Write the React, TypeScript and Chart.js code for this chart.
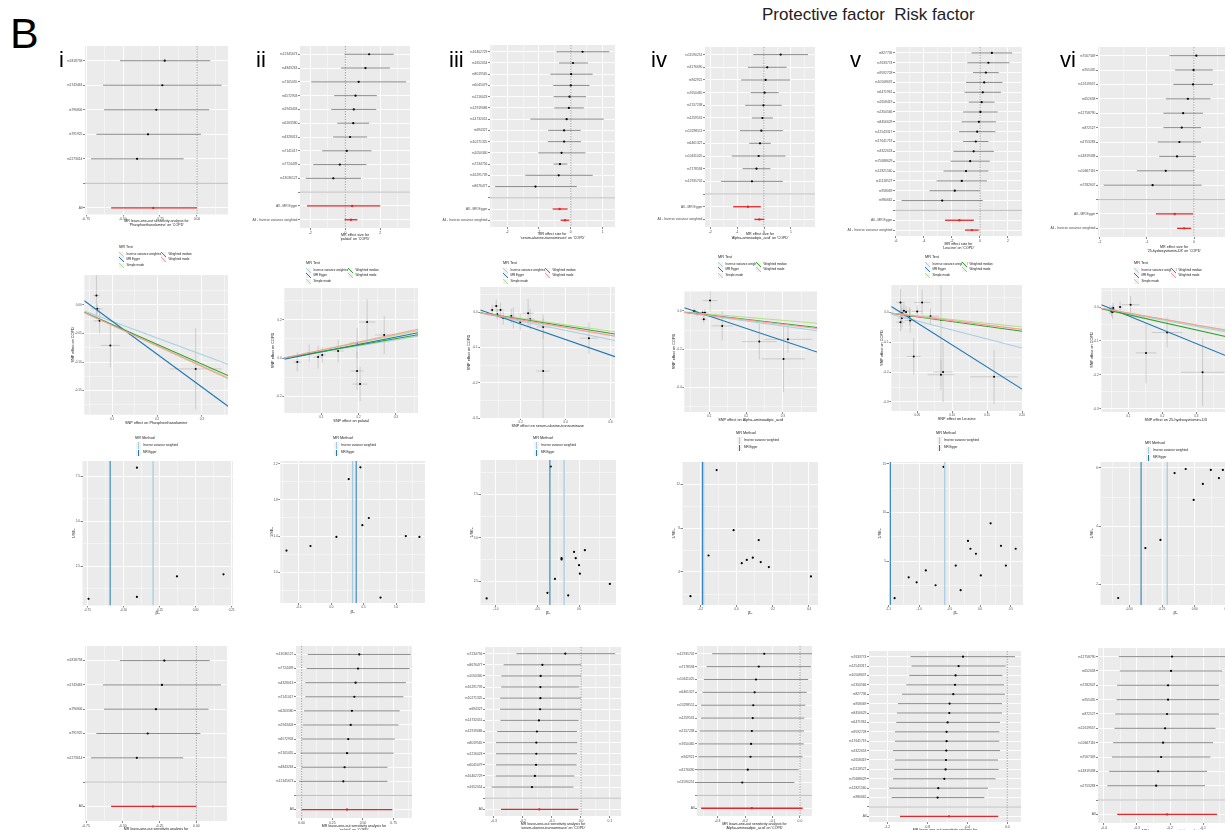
import React, { useEffect, useRef } from 'react';
import { Chart, registerables } from 'chart.js';

Chart.register(...registerables);

const FONT = "'Liberation Sans', Arial, 'DejaVu Sans', sans-serif";
const C = { ivw: '#A6CEE3', egger: '#1F78B4', smode: '#B2DF8A', wmed: '#33A02C', wmode: '#FB9A99' };
const SUM_LABELS = ['All - MR Egger', 'All - Inverse variance weighted'];

// ================= Column i : Phosphoethanolamine =================
const snpsI = ['rs1818758', 'rs1743463', 'rs796806', 'rs791925', 'rs2273614'];
const looI_b = [-0.218, -0.234, -0.275, -0.331, -0.405];
const looI_lo = [-0.52, -0.635, -0.628, -0.68, -0.716];
const looI_hi = [0.09, 0.167, 0.083, 0.027, -0.09];
const sumI_b = [-0.295];
const sumI_lo = [-0.58];
const sumI_hi = [0.0];
const scI_x = [0.065, 0.067, 0.072, 0.096, 0.286];
const scI_y = [0.016, -0.007, -0.028, -0.071, -0.112];
const scI_xse = [0.0075, 0.0125, 0.0125, 0.021, 0.058];
const scI_yse = [0.041, 0.009, 0.022, 0.038, 0.071];
const mrI_slope = [-0.29, -0.576, -0.355, -0.345, -0.36]; // IVW, Egger, Simple mode, W median, W mode
const mrI_icpt = [0, 0.029, 0, 0, 0];
const fnI_b = [-0.743, -0.407, -0.407, -0.129, 0.194];
const fnI_prec = [0.67, 7.99, 0.78, 1.93, 2.04];
const fnI_line = [-0.295, -0.593]; // IVW, Egger

// ================= Column ii : palatal =================
const snpsII = ['rs12345673', 'rs4843263', 'rs7165055', 'rs6572903', 'rs2943403', 'rs6263580', 'rs4328013', 'rs7141017', 'rs7724439', 'rs13036127'];
const fII_b = [1.36, 1.15, 0.76, 0.58, 0.48, 0.45, 0.27, 0.08, -0.32, -0.69];
const fII_lo = [-0.05, -0.25, -1.96, -0.64, -0.81, -0.46, -0.7, -1.33, -1.84, -2.27];
const fII_hi = [2.77, 2.55, 3.48, 1.8, 1.77, 1.36, 1.24, 1.49, 1.2, 0.89];
const sumII_b = [0.385, 0.32];
const sumII_lo = [-2.2, -0.05];
const sumII_hi = [2.0, 0.69];
const scII_x = [0.035, 0.067, 0.091, 0.102, 0.145, 0.196, 0.196, 0.204, 0.223, 0.269];
const scII_y = [-0.021, 0.026, 0.005, 0.016, 0.037, 0.079, -0.068, -0.137, 0.189, 0.121];
const scII_xse = [0.01, 0.012, 0.012, 0.01, 0.015, 0.02, 0.018, 0.02, 0.022, 0.025];
const scII_yse = [0.05, 0.045, 0.06, 0.04, 0.06, 0.08, 0.1, 0.09, 0.12, 0.1];
const mrII_slope = [0.32, 0.385, 0.4, 0.34, 0.42];
const mrII_icpt = [0, -0.006, 0, 0, 0];
const fnII_b = [-0.69, -0.32, 0.08, 0.27, 0.45, 0.48, 0.58, 0.76, 1.15, 1.36];
const fnII_prec = [1.24, 1.29, 1.39, 2.03, 2.16, 1.52, 1.6, 0.72, 1.4, 1.39];
const fnII_line = [0.33, 0.385];
const looSnpsII = ['rs13036127', 'rs7724439', 'rs4328013', 'rs7141017', 'rs6263580', 'rs2943403', 'rs6572903', 'rs7165055', 'rs4843263', 'rs12345673'];
const looII_b = [0.47, 0.46, 0.44, 0.43, 0.41, 0.4, 0.38, 0.37, 0.35, 0.34];
const looII_lo = [0.05, 0.04, 0.03, 0.03, 0.02, 0.01, 0.0, -0.01, 0.0, -0.02];
const looII_hi = [0.89, 0.88, 0.85, 0.83, 0.8, 0.79, 0.76, 0.75, 0.7, 0.7];
const looSumII = [0.37, 0.0, 0.74]; // b, lo, hi

// ================= Column iii : serum-alanine-transaminase =================
const snpsIII = ['rs16402729', 'rs1652054', 'rs8019565', 'rs6045079', 'rs1216023', 'rs12919086', 'rs14732051', 'rs694327', 'rs10271325', 'rs1050340', 'rs7234756', 'rs16291739', 'rs8676477'];
const fIII_b = [0.37, 0.07, 0.01, 0.0, -0.04, -0.06, -0.13, -0.21, -0.21, -0.29, -0.34, -0.38, -1.11];
const fIII_lo = [-0.45, -0.37, -0.64, -0.55, -0.54, -0.52, -1.27, -0.71, -0.72, -1.02, -0.54, -1.43, -2.38];
const fIII_hi = [1.21, 0.54, 0.69, 0.59, 0.48, 0.41, 1.04, 0.31, 0.32, 0.46, -0.11, 0.69, 0.19];
const sumIII_b = [-0.35, -0.18];
const sumIII_lo = [-0.57, -0.32];
const sumIII_hi = [-0.1, -0.05];
const scIII_x = [0.073, 0.091, 0.096, 0.11, 0.122, 0.158, 0.167, 0.198, 0.233, 0.242, 0.3, 0.3, 0.504];
const scIII_y = [0.006, 0.017, -0.006, 0.006, -0.017, -0.011, -0.017, -0.028, -0.003, -0.02, -0.042, -0.167, -0.074];
const scIII_xse = [0.01, 0.012, 0.012, 0.015, 0.012, 0.015, 0.02, 0.02, 0.025, 0.02, 0.03, 0.03, 0.04];
const scIII_yse = [0.015, 0.018, 0.015, 0.02, 0.018, 0.02, 0.03, 0.025, 0.04, 0.03, 0.035, 0.15, 0.045];
const mrIII_slope = [-0.13, -0.22, -0.09, -0.1, -0.11];
const mrIII_icpt = [0, 0.01, 0, 0, 0];
const fnIII_b = [0.37, 0.07, 0.01, 0.0, -0.04, -0.06, -0.13, -0.21, -0.21, -0.29, -0.34, -0.38, -1.11];
const fnIII_prec = [2.36, 4.3, 2.95, 3.44, 3.84, 4.2, 1.7, 3.84, 3.77, 2.65, 9.1, 1.85, 1.53];
const fnIII_line = [-0.18, -0.35];
const looSnpsIII = ['rs7234756', 'rs8676477', 'rs1050340', 'rs16291739', 'rs10271325', 'rs694327', 'rs14732051', 'rs12919086', 'rs8019565', 'rs1216023', 'rs6045079', 'rs16402729', 'rs1652054'];
const looIII_b = [-0.054, -0.133, -0.139, -0.14, -0.14, -0.141, -0.145, -0.152, -0.154, -0.154, -0.155, -0.159, -0.169];
const looIII_lo = [-0.223, -0.267, -0.275, -0.275, -0.279, -0.279, -0.278, -0.289, -0.293, -0.293, -0.293, -0.294, -0.308];
const looIII_hi = [0.118, 0.001, 0.0, -0.006, 0.0, 0.0, -0.008, -0.014, -0.013, -0.014, -0.015, -0.023, -0.026];
const looSumIII = [-0.144, -0.276, -0.009];

// ================= Column iv : Alpha-aminoadipic_acid =================
const snpsIV = ['rs11590251', 'rs3176690', 'rs942921', 'rs7650465', 'rs2157238', 'rs1259531', 'rs13298511', 'rs6461327', 'rs10611025', 'rs7178594', 'rs12935702'];
const fIV_b = [0.62, 0.12, 0.06, 0.02, -0.02, -0.06, -0.1, -0.15, -0.2, -0.28, -0.45];
const fIV_lo = [-0.4, -0.6, -0.85, -0.5, -0.7, -0.45, -0.9, -0.55, -1.2, -0.8, -1.6];
const fIV_hi = [1.64, 0.84, 0.97, 0.54, 0.66, 0.33, 0.7, 0.25, 0.8, 0.24, 0.7];
const sumIV_b = [-0.6, -0.175];
const sumIV_lo = [-1.15, -0.36];
const sumIV_hi = [-0.12, 0.01];
const scIV_x = [0.058, 0.061, 0.067, 0.082, 0.085, 0.088, 0.102, 0.135, 0.236, 0.302, 0.314];
const scIV_y = [0.0, -0.003, -0.012, -0.009, -0.043, -0.009, 0.054, -0.078, -0.16, -0.25, -0.148];
const scIV_xse = [0.006, 0.005, 0.006, 0.007, 0.008, 0.007, 0.02, 0.029, 0.047, 0.059, 0.066];
const scIV_yse = [0.012, 0.01, 0.015, 0.014, 0.02, 0.018, 0.058, 0.076, 0.094, 0.174, 0.07];
const mrIV_slope = [-0.263, -0.64, -0.163, -0.22, -0.233];
const mrIV_icpt = [0, 0.037, 0, 0, 0];
const fnIV_b = [-0.111, -0.017, 0.028, 0.056, 0.089, 0.133, 0.122, 0.178, -0.156, -0.256, 0.411];
const fnIV_prec = [13.27, 7.8, 4.8, 5.1, 5.3, 4.9, 6.9, 4.45, 5.5, 1.8, 3.6];
const fnIV_line = [-0.183, -0.19];
const looSnpsIV = ['rs12935702', 'rs7178594', 'rs10611025', 'rs6461327', 'rs13298511', 'rs1259531', 'rs2157238', 'rs7650465', 'rs942921', 'rs3176690', 'rs11590251'];
const looIV_b = [-0.13, -0.15, -0.16, -0.165, -0.17, -0.172, -0.175, -0.178, -0.18, -0.19, -0.21];
const looIV_lo = [-0.32, -0.34, -0.35, -0.355, -0.36, -0.36, -0.365, -0.37, -0.37, -0.375, -0.4];
const looIV_hi = [0.06, 0.04, 0.03, 0.025, 0.02, 0.016, 0.015, 0.014, 0.01, -0.005, -0.02];
const looSumIV = [-0.175, -0.36, 0.01];

// ================= Column v : Leucine =================
const snpsV = ['rs827736', 'rs7633774', 'rs9592728', 'rs10508637', 'rs6471961', 'rs2658419', 'rs2350566', 'rs8456629', 'rs12543317', 'rs17641719', 'rs3322653', 'rs75688629', 'rs12821560', 'rs11118527', 'rs958069', 'rs980662'];
const fV_b = [0.85, 0.6, 0.42, 0.3, 0.2, 0.12, 0.03, -0.08, -0.2, -0.3, -0.45, -0.7, -1.0, -1.3, -1.8, -2.7];
const fV_lo = [-0.6, -0.9, -0.5, -1.0, -1.1, -0.8, -1.2, -1.3, -1.5, -1.2, -1.9, -2.1, -2.6, -3.1, -3.6, -5.6];
const fV_hi = [2.3, 2.1, 1.34, 1.6, 1.5, 1.04, 1.26, 1.14, 1.1, 0.6, 1.0, 0.7, 0.6, 0.5, 0.0, 0.2];
const sumV_b = [-1.47, -0.58];
const sumV_lo = [-2.5, -1.07];
const sumV_hi = [-0.44, -0.09];
const scV_x = [0.026, 0.028, 0.026, 0.028, 0.031, 0.039, 0.04, 0.05, 0.057, 0.069, 0.084, 0.045, 0.084, 0.087, 0.16, 0.034];
const scV_y = [0.032, -0.003, -0.034, -0.02, 0.004, -0.014, -0.028, 0.002, 0.032, -0.014, -0.026, -0.148, -0.209, -0.2, -0.216, 0.0];
const scV_xse = [0.006, 0.006, 0.006, 0.006, 0.007, 0.008, 0.008, 0.008, 0.012, 0.012, 0.01, 0.01, 0.019, 0.014, 0.034, 0.006];
const scV_yse = [0.045, 0.03, 0.03, 0.035, 0.025, 0.03, 0.04, 0.02, 0.043, 0.025, 0.18, 0.06, 0.05, 0.1, 0.09, 0.02];
const mrV_slope = [-0.6, -1.47, -0.25, -0.32, -0.29];
const mrV_icpt = [0, 0.037, 0, 0, 0];
const fnV_b = [-0.6, -0.89, -0.2, -0.16, -0.07, 0.17, 0.34, 0.58, -1.17, -1.04, -0.4, -0.73, 0.01, -0.32, -1.4, 0.42];
const fnV_prec = [14.7, 4.05, 7.09, 6.28, 5.77, 8.9, 6.58, 6.28, 3.34, 2.83, 4.55, 2.53, 3.54, 2.02, 1.2, 4.55];
const fnV_line = [-0.58, -1.47];
const looSnpsV = ['rs7633774', 'rs12543317', 'rs10508637', 'rs2350566', 'rs827736', 'rs958069', 'rs8456629', 'rs6471961', 'rs9592728', 'rs17641719', 'rs3322653', 'rs2658419', 'rs11118527', 'rs75688629', 'rs12821560', 'rs980662'];
const looV_b = [-0.443, -0.487, -0.517, -0.523, -0.54, -0.577, -0.58, -0.597, -0.607, -0.607, -0.61, -0.613, -0.617, -0.63, -0.69, -0.697];
const looV_lo = [-0.967, -0.957, -0.98, -1.01, -1.053, -1.093, -1.103, -1.11, -1.123, -1.123, -1.143, -1.123, -1.133, -1.143, -1.183, -1.157];
const looV_hi = [0.077, -0.017, -0.05, -0.033, -0.023, -0.053, -0.053, -0.073, -0.08, -0.08, -0.073, -0.093, -0.087, -0.117, -0.193, -0.23];
const looSumV = [-0.583, -1.073, -0.09];

// ================= Column vi : 25-hydroxyvitamin-D3 =================
const snpsVI = ['rs7567349', 'rs955435', 'rs12619657', 'rs652658', 'rs12758790', 'rs872527', 'rs2753283', 'rs14819438', 'rs10667116', 'rs7282607'];
const fVI_b = [0.05, -0.01, -0.02, -0.13, -0.23, -0.26, -0.31, -0.36, -0.6, -0.88];
const fVI_lo = [-0.52, -0.4, -0.44, -0.6, -0.65, -0.65, -0.77, -0.74, -1.21, -1.92];
const fVI_hi = [0.75, 0.4, 0.4, 0.35, 0.19, 0.15, 0.15, 0.04, 0.01, 0.16];
const sumVI_b = [-0.41, -0.21];
const sumVI_lo = [-0.81, -0.36];
const sumVI_hi = [-0.02, -0.06];
const scVI_x = [0.046, 0.051, 0.054, 0.056, 0.076, 0.107, 0.152, 0.214, 0.318, 0.05];
const scVI_y = [-0.008, -0.013, -0.015, -0.003, 0.0, 0.007, -0.135, -0.075, -0.192, -0.01];
const scVI_xse = [0.006, 0.005, 0.006, 0.006, 0.008, 0.026, 0.03, 0.045, 0.064, 0.005];
const scVI_yse = [0.012, 0.015, 0.02, 0.015, 0.017, 0.025, 0.09, 0.044, 0.1, 0.01];
const mrVI_slope = [-0.19, -0.41, -0.18, -0.225, -0.175];
const mrVI_icpt = [0, 0.015, 0, 0, 0];
const fnVI_b = [-0.585, -0.377, -0.154, -0.069, -0.008, 0.062, 0.123, 0.185, 0.215, -0.262];
const fnVI_prec = [1.54, 3.25, 5.82, 5.96, 4.9, 5.45, 5.93, 5.65, 5.93, 3.53];
const fnVI_line = [-0.21, -0.41];
const looSnpsVI = ['rs12758790', 'rs652658', 'rs7282607', 'rs955435', 'rs872527', 'rs12619657', 'rs10667116', 'rs7567349', 'rs14819438', 'rs2753283'];
const looVI_b = [-0.194, -0.197, -0.206, -0.206, -0.209, -0.215, -0.221, -0.227, -0.236, -0.242];
const looVI_lo = [-0.355, -0.352, -0.36, -0.362, -0.366, -0.368, -0.372, -0.376, -0.384, -0.39];
const looVI_hi = [-0.033, -0.042, -0.052, -0.05, -0.052, -0.062, -0.07, -0.078, -0.088, -0.094];
const looSumVI = [-0.209, -0.36, -0.058];

// ================= helpers =================
type Box = [number, number, number, number];
type Seg = { x0: number; x1: number; y0: number; y1: number; c: string; w: number; dash?: number[] };
type Spec = { left: number; top: number; w: number; h: number; make: () => any };

function fmt(v: number, dec: number) {
  const s = v.toFixed(dec);
  return /^-0(\.0+)?$/.test(s) ? s.slice(1) : s;
}

function minorTicks(majors: number[], min: number, max: number) {
  const step = majors[1] - majors[0];
  const out = majors.map((m) => m - step / 2);
  out.push(majors[majors.length - 1] + step / 2);
  return out.filter((v) => v > min && v < max);
}

function makeAxis(o: {
  horiz: boolean; min: number; max: number; majors: number[]; dec?: number; labels?: (v: number) => string;
  minor: boolean; size: number; fs: number; title?: string | string[]; tfs?: number; reverse?: boolean;
}) {
  const ticks = o.majors.map((v) => ({ value: v, minor: false }));
  if (o.minor) minorTicks(o.majors, o.min, o.max).forEach((v) => ticks.push({ value: v, minor: true }));
  ticks.sort((a, b) => a.value - b.value);
  return {
    type: 'linear',
    min: o.min,
    max: o.max,
    reverse: !!o.reverse,
    afterBuildTicks: (s: any) => { s.ticks = ticks.map((t) => ({ ...t })); },
    afterFit: (s: any) => { if (o.horiz) s.height = o.size; else s.width = o.size; },
    ticks: {
      autoSkip: false, maxRotation: 0, minRotation: 0, padding: 0.6, color: '#4D4D4D',
      font: { size: o.fs, family: FONT },
      callback: (v: number, i: number, arr: any[]) =>
        arr[i] && arr[i].minor ? '' : (o.labels ? o.labels(v) : fmt(v, o.dec ?? 1)),
    },
    grid: {
      color: '#FFFFFF',
      lineWidth: (c: any) => (c.tick && c.tick.minor ? 0.45 : 0.9),
      drawTicks: true, tickLength: 2,
      tickColor: (c: any) => (c.tick && c.tick.minor ? 'rgba(0,0,0,0)' : '#333333'),
      tickWidth: 0.6,
    },
    border: { display: false },
    title: o.title
      ? { display: true, text: o.title, color: '#1A1A1A', font: { size: o.tfs ?? 3.8, family: FONT, lineHeight: 1.2 }, padding: { top: 0, bottom: 0 } }
      : { display: false },
  };
}

const bgPlugin = {
  id: 'panelBg',
  beforeDraw(chart: any) {
    const { ctx, chartArea: a } = chart;
    ctx.save();
    ctx.fillStyle = '#EBEBEB';
    ctx.fillRect(a.left, a.top, a.right - a.left, a.bottom - a.top);
    ctx.restore();
  },
};

function extrasPlugin(under: Seg[], over: Seg[]) {
  const draw = (chart: any, segs: Seg[]) => {
    const { ctx, chartArea: a, scales } = chart;
    const x = scales.x, y = scales.y;
    ctx.save();
    ctx.beginPath();
    ctx.rect(a.left, a.top, a.right - a.left, a.bottom - a.top);
    ctx.clip();
    for (const s of segs) {
      const px0 = isNaN(s.x0) ? a.left : x.getPixelForValue(s.x0);
      const px1 = isNaN(s.x1) ? a.right : x.getPixelForValue(s.x1);
      const py0 = isNaN(s.y0) ? a.top : y.getPixelForValue(s.y0);
      const py1 = isNaN(s.y1) ? a.bottom : y.getPixelForValue(s.y1);
      ctx.beginPath();
      ctx.strokeStyle = s.c;
      ctx.lineWidth = s.w;
      ctx.setLineDash(s.dash || []);
      ctx.moveTo(px0, py0);
      ctx.lineTo(px1, py1);
      ctx.stroke();
    }
    ctx.restore();
  };
  return {
    id: 'extras',
    beforeDatasetsDraw(chart: any) { draw(chart, under); },
    afterDatasetsDraw(chart: any) { draw(chart, over); },
  };
}

function frame(box: Box, L: number, B: number, T = 4, R = 8) {
  return { left: box[0] - L, top: box[1] - T, w: box[2] - box[0] + L + R, h: box[3] - box[1] + T + B, T, R };
}

function baseOptions(T: number, R: number, x: any, y: any) {
  return {
    animation: false, responsive: false, maintainAspectRatio: false, devicePixelRatio: 1, events: [],
    layout: { padding: { left: 0, top: T, right: R, bottom: 0 } },
    plugins: { legend: { display: false }, tooltip: { enabled: false }, title: { display: false } },
    scales: { x, y },
  };
}

function pointsDs(pts: { x: number; y: number }[], color: string, r = 1.1) {
  return { type: 'scatter', data: pts, backgroundColor: color, borderColor: color, borderWidth: 0, pointRadius: r };
}

// ---------- forest / leave-one-out ----------
function forest(o: {
  box: Box; L: number; B: number; snps: string[]; b: number[]; lo: number[]; hi: number[];
  sLab: string[]; sB: number[]; sLo: number[]; sHi: number[];
  xmin: number; xmax: number; xt: number[]; dec: number; title: string[]; yPad?: number;
}): Spec {
  const f = frame(o.box, o.L, o.B);
  return {
    left: f.left, top: f.top, w: f.w, h: f.h,
    make: () => {
      const n1 = o.snps.length;
      const labels = [...o.snps, '', ...o.sLab];
      const N = labels.length;
      const rows = labels.map((_, i) => i + 1);
      const under: Seg[] = [];
      under.push({ x0: 0, x1: 0, y0: NaN, y1: NaN, c: '#7A7A7A', w: 0.7, dash: [1.4, 1.2] });
      o.b.forEach((_, i) => under.push({ x0: o.lo[i], x1: o.hi[i], y0: i + 1, y1: i + 1, c: '#707070', w: 0.8 }));
      o.sB.forEach((_, j) => under.push({ x0: o.sLo[j], x1: o.sHi[j], y0: n1 + 2 + j, y1: n1 + 2 + j, c: '#E8262A', w: 1.3 }));
      under.push({ x0: NaN, x1: NaN, y0: n1 + 1, y1: n1 + 1, c: '#BEBEBE', w: 1 });
      const x = makeAxis({ horiz: true, min: o.xmin, max: o.xmax, majors: o.xt, dec: o.dec, minor: true, size: o.B, fs: 3.4, title: o.title, tfs: 3.6 });
      const y = makeAxis({
        horiz: false, min: 0.4, max: N + (o.yPad ?? 0.6), majors: rows, minor: false, size: o.L, fs: 3.3, reverse: true,
        labels: (v: number) => labels[Math.round(v) - 1] ?? '',
      });
      return {
        type: 'scatter',
        data: {
          datasets: [
            pointsDs(o.sB.map((v, j) => ({ x: v, y: n1 + 2 + j })), '#E8262A', 1.2),
            pointsDs(o.b.map((v, i) => ({ x: v, y: i + 1 })), '#000000', 1.1),
          ],
        },
        options: baseOptions(f.T, f.R, x, y),
        plugins: [bgPlugin, extrasPlugin(under, [])],
      };
    },
  };
}

// ---------- scatter ----------
function scatter(o: {
  box: Box; L: number; B: number; x: number[]; y: number[]; xse: number[]; yse: number[];
  slope: number[]; icpt: number[]; xmin: number; xmax: number; ymin: number; ymax: number;
  xt: number[]; yt: number[]; xdec: number; ydec: number; xtitle: string;
}): Spec {
  const f = frame(o.box, o.L, o.B);
  return {
    left: f.left, top: f.top, w: f.w, h: f.h,
    make: () => {
      const under: Seg[] = [];
      o.x.forEach((xv, i) => {
        under.push({ x0: xv, x1: xv, y0: o.y[i] - o.yse[i], y1: o.y[i] + o.yse[i], c: '#B5B5B5', w: 0.6 });
        under.push({ x0: xv - o.xse[i], x1: xv + o.xse[i], y0: o.y[i], y1: o.y[i], c: '#B5B5B5', w: 0.6 });
      });
      const cols = [C.ivw, C.egger, C.smode, C.wmed, C.wmode];
      const lines = cols.map((c, k) => ({
        type: 'line',
        data: [
          { x: o.xmin, y: o.icpt[k] + o.slope[k] * o.xmin },
          { x: o.xmax, y: o.icpt[k] + o.slope[k] * o.xmax },
        ],
        borderColor: c, borderWidth: 1.1, pointRadius: 0, fill: false, tension: 0,
      })).reverse();
      const x = makeAxis({ horiz: true, min: o.xmin, max: o.xmax, majors: o.xt, dec: o.xdec, minor: true, size: o.B, fs: 3, title: o.xtitle, tfs: 3.8 });
      const y = makeAxis({ horiz: false, min: o.ymin, max: o.ymax, majors: o.yt, dec: o.ydec, minor: true, size: o.L, fs: 3, title: 'SNP effect on COPD', tfs: 3.8 });
      return {
        type: 'scatter',
        data: { datasets: [...lines, pointsDs(o.x.map((v, i) => ({ x: v, y: o.y[i] })), '#000000', 1.0)] },
        options: baseOptions(f.T, f.R, x, y),
        plugins: [bgPlugin, extrasPlugin(under, [])],
      };
    },
  };
}

// ---------- funnel ----------
function funnel(o: {
  box: Box; L: number; B: number; b: number[]; prec: number[]; lines: number[];
  xmin: number; xmax: number; ymin: number; ymax: number; xt: number[]; yt: number[]; xdec: number; ydec: number;
}): Spec {
  const f = frame(o.box, o.L, o.B);
  return {
    left: f.left, top: f.top, w: f.w, h: f.h,
    make: () => {
      const over: Seg[] = [
        { x0: o.lines[0], x1: o.lines[0], y0: NaN, y1: NaN, c: C.ivw, w: 1.3 },
        { x0: o.lines[1], x1: o.lines[1], y0: NaN, y1: NaN, c: C.egger, w: 1.0 },
      ];
      const x = makeAxis({ horiz: true, min: o.xmin, max: o.xmax, majors: o.xt, dec: o.xdec, minor: true, size: o.B, fs: 3, title: '\u03B2\u0302\u1D62\u1D65', tfs: 4.2 });
      const y = makeAxis({ horiz: false, min: o.ymin, max: o.ymax, majors: o.yt, dec: o.ydec, minor: true, size: o.L, fs: 3, title: '1/SE\u1D62\u1D65', tfs: 3.8 });
      return {
        type: 'scatter',
        data: { datasets: [pointsDs(o.b.map((v, i) => ({ x: v, y: o.prec[i] })), '#000000', 1.1)] },
        options: baseOptions(f.T, f.R, x, y),
        plugins: [bgPlugin, extrasPlugin([], over)],
      };
    },
  };
}

const looTitle = (e: string) => ['MR leave-one-out sensitivity analysis for', `'${e}' on 'COPD'`];
const mrTitle = (e: string) => ['MR effect size for', `'${e}' on 'COPD'`];

const SPECS: Spec[] = [
  // ---------- Row 1 : single SNP / forest ----------
  forest({ box: [85, 46, 228, 214], L: 40, B: 12.5, snps: snpsI, b: looI_b, lo: looI_lo, hi: looI_hi, sLab: ['All'], sB: sumI_b, sLo: sumI_lo, sHi: sumI_hi, xmin: -0.757, xmax: 0.21, xt: [-0.75, -0.5, -0.25, 0], dec: 2, title: looTitle('Phosphoethanolamine'), yPad: 0.27 }),
  forest({ box: [300, 46, 410, 228], L: 50, B: 13, snps: snpsII, b: fII_b, lo: fII_lo, hi: fII_hi, sLab: SUM_LABELS, sB: sumII_b, sLo: sumII_lo, sHi: sumII_hi, xmin: -2.6, xmax: 3.7, xt: [-2, 0, 2], dec: 0, title: mrTitle('palatal') }),
  forest({ box: [490, 45, 615, 227], L: 50, B: 13, snps: snpsIII, b: fIII_b, lo: fIII_lo, hi: fIII_hi, sLab: SUM_LABELS, sB: sumIII_b, sLo: sumIII_lo, sHi: sumIII_hi, xmin: -2.54, xmax: 1.39, xt: [-2, -1, 0, 1], dec: 0, title: mrTitle('serum-alanine-transaminase') }),
  forest({ box: [705, 47, 815, 227], L: 50, B: 13, snps: snpsIV, b: fIV_b, lo: fIV_lo, hi: fIV_hi, sLab: SUM_LABELS, sB: sumIV_b, sLo: sumIV_lo, sHi: sumIV_hi, xmin: -2.2, xmax: 1.9, xt: [-2, -1, 0, 1], dec: 0, title: mrTitle('Alpha-aminoadipic_acid') }),
  forest({ box: [895, 47, 1022, 236], L: 50, B: 14, snps: snpsV, b: fV_b, lo: fV_lo, hi: fV_hi, sLab: SUM_LABELS, sB: sumV_b, sLo: sumV_lo, sHi: sumV_hi, xmin: -6.07, xmax: 3.0, xt: [-6, -4, -2, 0, 2], dec: 0, title: mrTitle('Leucine') }),
  forest({ box: [1098, 47, 1250, 237], L: 50, B: 16, snps: snpsVI, b: fVI_b, lo: fVI_lo, hi: fVI_hi, sLab: SUM_LABELS, sB: sumVI_b, sLo: sumVI_lo, sHi: sumVI_hi, xmin: -2.04, xmax: 1.19, xt: [-2, -1, 0, 1], dec: 0, title: mrTitle('25-hydroxyvitamin-D3') }),

  // ---------- Row 2 : scatter ----------
  scatter({ box: [84, 275, 228, 415], L: 13.3, B: 10.3, x: scI_x, y: scI_y, xse: scI_xse, yse: scI_yse, slope: mrI_slope, icpt: mrI_icpt, xmin: 0.038, xmax: 0.358, ymin: -0.192, ymax: 0.052, xt: [0.1, 0.2, 0.3], yt: [-0.15, -0.1, -0.05, 0], xdec: 1, ydec: 2, xtitle: 'SNP effect on Phosphoethanolamine' }),
  scatter({ box: [284, 288, 418, 413], L: 13.3, B: 10, x: scII_x, y: scII_y, xse: scII_xse, yse: scII_yse, slope: mrII_slope, icpt: mrII_icpt, xmin: 0.0, xmax: 0.36, ymin: -0.289, ymax: 0.368, xt: [0.1, 0.2, 0.3], yt: [-0.2, 0, 0.2], xdec: 1, ydec: 1, xtitle: 'SNP effect on palatal' }),
  scatter({ box: [480, 287, 615, 418], L: 13.3, B: 10, x: scIII_x, y: scIII_y, xse: scIII_xse, yse: scIII_yse, slope: mrIII_slope, icpt: mrIII_icpt, xmin: 0.02, xmax: 0.62, ymin: -0.3, ymax: 0.071, xt: [0.2, 0.4, 0.6], yt: [-0.3, -0.2, -0.1, 0], xdec: 1, ydec: 1, xtitle: 'SNP effect on serum-alanine-transaminase' }),
  scatter({ box: [684, 291, 817, 412], L: 12.3, B: 10, x: scIV_x, y: scIV_y, xse: scIV_xse, yse: scIV_yse, slope: mrIV_slope, icpt: mrIV_icpt, xmin: 0.032, xmax: 0.393, ymin: -0.527, ymax: 0.104, xt: [0.1, 0.2, 0.3], yt: [-0.4, -0.2, 0], xdec: 1, ydec: 1, xtitle: 'SNP effect on Alpha-aminoadipic_acid' }),
  scatter({ box: [891, 285, 1022, 411], L: 11.3, B: 10, x: scV_x, y: scV_y, xse: scV_xse, yse: scV_yse, slope: mrV_slope, icpt: mrV_icpt, xmin: 0.0129, xmax: 0.2, ymin: -0.33, ymax: 0.09, xt: [0.05, 0.1, 0.15, 0.2], yt: [-0.3, -0.2, -0.1, 0], xdec: 2, ydec: 1, xtitle: 'SNP effect on Leucine' }),
  scatter({ box: [1101, 288, 1250, 412], L: 11.3, B: 10, x: scVI_x, y: scVI_y, xse: scVI_xse, yse: scVI_yse, slope: mrVI_slope, icpt: mrVI_icpt, xmin: 0.021, xmax: 0.457, ymin: -0.309, ymax: 0.056, xt: [0.1, 0.2, 0.3, 0.4], yt: [-0.3, -0.2, -0.1, 0], xdec: 1, ydec: 1, xtitle: 'SNP effect on 25-hydroxyvitamin+D3' }),

  // ---------- Row 3 : funnel ----------
  funnel({ box: [82, 461, 232, 605], L: 10.5, B: 9.5, b: fnI_b, prec: fnI_prec, lines: fnI_line, xmin: -0.785, xmax: 0.26, ymin: 0.3, ymax: 8.36, xt: [-0.75, -0.5, -0.25, 0, 0.25], yt: [2.5, 5, 7.5], xdec: 2, ydec: 1 }),
  funnel({ box: [280, 461, 425, 603], L: 10.3, B: 11, b: fnII_b, prec: fnII_prec, lines: fnII_line, xmin: -0.785, xmax: 1.446, ymin: 0.66, ymax: 2.23, xt: [-0.5, 0, 0.5, 1], yt: [1.0, 1.4, 1.8, 2.2], xdec: 1, ydec: 1 }),
  funnel({ box: [480, 460, 615, 605], L: 10.5, B: 10, b: fnIII_b, prec: fnIII_prec, lines: fnIII_line, xmin: -1.184, xmax: 0.444, ymin: 1.15, ymax: 9.48, xt: [-1, -0.5, 0], yt: [2.5, 5, 7.5], xdec: 1, ydec: 1 }),
  funnel({ box: [682, 462, 817, 605], L: 10.5, B: 10, b: fnIV_b, prec: fnIV_prec, lines: fnIV_line, xmin: -0.3, xmax: 0.45, ymin: 1, ymax: 14, xt: [-0.2, 0, 0.2, 0.4], yt: [4, 8, 12], xdec: 1, ydec: 0 }),
  funnel({ box: [888, 462, 1022, 605], L: 10.5, B: 10, b: fnV_b, prec: fnV_prec, lines: fnV_line, xmin: -1.5, xmax: 0.7, ymin: 0.5, ymax: 15.2, xt: [-1.5, -1, -0.5, 0, 0.5], yt: [5, 10, 15], xdec: 1, ydec: 0 }),
  funnel({ box: [1100, 462, 1250, 605], L: 10.5, B: 10, b: fnVI_b, prec: fnVI_prec, lines: fnVI_line, xmin: -0.72, xmax: 0.43, ymin: 1.3, ymax: 6.2, xt: [-0.5, -0.25, 0, 0.25], yt: [2, 4, 6], xdec: 2, ydec: 0 }),

  // ---------- Row 4 : leave-one-out ----------
  forest({ box: [85, 646, 227, 821], L: 40, B: 14, snps: snpsI, b: looI_b, lo: looI_lo, hi: looI_hi, sLab: ['All'], sB: sumI_b, sLo: sumI_lo, sHi: sumI_hi, xmin: -0.757, xmax: 0.208, xt: [-0.75, -0.5, -0.25, 0], dec: 2, title: looTitle('Phosphoethanolamine') }),
  forest({ box: [296, 646, 412, 818], L: 40, B: 14, snps: looSnpsII, b: looII_b, lo: looII_lo, hi: looII_hi, sLab: ['All'], sB: [looSumII[0]], sLo: [looSumII[1]], sHi: [looSumII[2]], xmin: -0.046, xmax: 0.9, xt: [0, 0.25, 0.5, 0.75], dec: 2, title: looTitle('palatal') }),
  forest({ box: [485, 647, 621, 816], L: 40, B: 14, snps: looSnpsIII, b: looIII_b, lo: looIII_lo, hi: looIII_hi, sLab: ['All'], sB: [looSumIII[0]], sLo: [looSumIII[1]], sHi: [looSumIII[2]], xmin: -0.331, xmax: 0.138, xt: [-0.3, -0.2, -0.1, 0, 0.1], dec: 1, title: looTitle('serum-alanine-transaminase') }),
  forest({ box: [697, 646, 812, 816], L: 40, B: 14, snps: looSnpsIV, b: looIV_b, lo: looIV_lo, hi: looIV_hi, sLab: ['All'], sB: [looSumIV[0]], sLo: [looSumIV[1]], sHi: [looSumIV[2]], xmin: -0.375, xmax: 0.044, xt: [-0.3, -0.2, -0.1, 0], dec: 1, title: looTitle('Alpha-aminoadipic_acid') }),
  forest({ box: [869, 651, 1021, 822], L: 40, B: 14, snps: looSnpsV, b: looV_b, lo: looV_lo, hi: looV_hi, sLab: ['All'], sB: [looSumV[0]], sLo: [looSumV[1]], sHi: [looSumV[2]], xmin: -1.383, xmax: 0.137, xt: [-1.2, -0.8, -0.4, 0], dec: 1, title: looTitle('Leucine') }),
  forest({ box: [1098, 648, 1250, 823], L: 40, B: 14, snps: looSnpsVI, b: looVI_b, lo: looVI_lo, hi: looVI_hi, sLab: ['All'], sB: [looSumVI[0]], sLo: [looSumVI[1]], sHi: [looSumVI[2]], xmin: -0.418, xmax: 0.042, xt: [-0.4, -0.3, -0.2, -0.1, 0], dec: 1, title: looTitle('25-hydroxyvitamin-D3') }),
];

function ChartCanvas({ spec }: { spec: Spec }) {
  const ref = useRef<HTMLCanvasElement>(null);
  useEffect(() => {
    if (!ref.current) return;
    const chart = new Chart(ref.current, spec.make());
    return () => chart.destroy();
  }, [spec]);
  return (
    <canvas
      ref={ref}
      width={Math.round(spec.w)}
      height={Math.round(spec.h)}
      style={{ position: 'absolute', left: spec.left, top: spec.top, width: Math.round(spec.w), height: Math.round(spec.h) }}
    />
  );
}

const textBase: React.CSSProperties = { position: 'absolute', fontFamily: FONT, whiteSpace: 'nowrap', color: '#1A1A1A' };

function TestLegend({ x, y, c2 }: { x: number; y: number; c2: number }) {
  const items: [string, string, number, number][] = [
    ['Inverse variance weighted', C.ivw, 0, 0], ['MR Egger', C.egger, 0, 1], ['Simple mode', C.smode, 0, 2],
    ['Weighted median', C.wmed, 1, 0], ['Weighted mode', C.wmode, 1, 1],
  ];
  return (
    <>
      <div style={{ ...textBase, left: x, top: y - 2.5, fontSize: 3.8, lineHeight: '5px' }}>MR Test</div>
      {items.map(([t, c, col, row]) => (
        <React.Fragment key={t}>
          <div style={{ position: 'absolute', left: x + col * c2, top: y + 7 + row * 5.9 - 2.5, width: 5, height: 5, background: `linear-gradient(to top right, #F2F2F2 calc(50% - 0.6px), ${c} 50%, #F2F2F2 calc(50% + 0.6px))` }} />
          <div style={{ ...textBase, left: x + col * c2 + 7.5, top: y + 7 + row * 5.9 - 2.5, fontSize: 3, lineHeight: '5px' }}>{t}</div>
        </React.Fragment>
      ))}
    </>
  );
}

function MethodLegend({ x, y }: { x: number; y: number }) {
  const items: [string, string, number][] = [['Inverse variance weighted', C.ivw, 0], ['MR Egger', C.egger, 1]];
  return (
    <>
      <div style={{ ...textBase, left: x, top: y - 2.5, fontSize: 3.8, lineHeight: '5px' }}>MR Method</div>
      {items.map(([t, c, row]) => (
        <React.Fragment key={t}>
          <div style={{ position: 'absolute', left: x + 1, top: y + 7.3 + row * 7.5 - 3, width: 5, height: 6.5, background: `linear-gradient(to right, #F2F2F2 40%, ${c} 40%, ${c} 62%, #F2F2F2 62%)` }} />
          <div style={{ ...textBase, left: x + 8, top: y + 7.3 + row * 7.5 - 2.5, fontSize: 3, lineHeight: '5px' }}>{t}</div>
        </React.Fragment>
      ))}
    </>
  );
}

const NUMERALS: [string, number][] = [['i', 59], ['ii', 256], ['iii', 449], ['iv', 651], ['v', 850], ['vi', 1060]];
const TEST_LEG: [number, number, number][] = [[119, 247, 42], [306, 263, 42], [503, 263, 42], [718, 257, 38], [925, 257, 37], [1134, 263, 37]];
const METHOD_LEG: [number, number][] = [[135, 438], [333, 438], [533, 438], [736, 433], [936, 433], [1145, 443]];

export default function App() {
  return (
    <div style={{ position: 'fixed', left: 0, top: 0, width: 1225, height: 830, overflow: 'hidden', background: '#FFFFFF' }}>
      {SPECS.map((s, i) => <ChartCanvas key={i} spec={s} />)}
      {TEST_LEG.map(([x, y, c2], i) => <TestLegend key={'t' + i} x={x} y={y} c2={c2} />)}
      {METHOD_LEG.map(([x, y], i) => <MethodLegend key={'m' + i} x={x} y={y} />)}
      {NUMERALS.map(([t, x]) => (
        <div key={t} style={{ ...textBase, left: x, top: 49, fontSize: 22, lineHeight: '22px', color: '#000' }}>{t}</div>
      ))}
      <div style={{ ...textBase, left: 10, top: 11.5, fontSize: 43, lineHeight: '43px', color: '#000' }}>B</div>
      <div style={{ ...textBase, left: 762, top: 6, fontSize: 17, lineHeight: '17px', color: '#222', whiteSpace: 'pre' }}>Protective factor  Risk factor</div>
    </div>
  );
}
